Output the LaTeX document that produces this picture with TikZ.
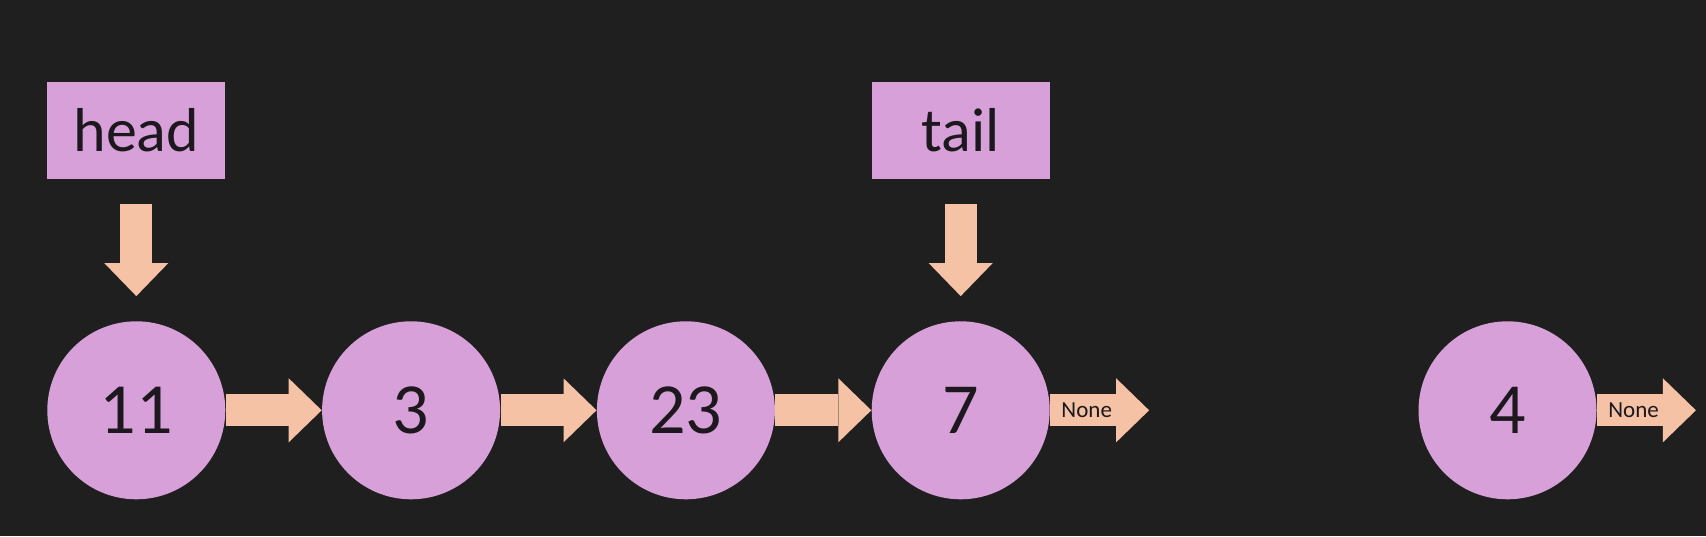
\documentclass[tikz,border=0pt]{standalone}
\usepackage{fontspec}
\setmainfont{Carlito}
\usetikzlibrary{arrows.meta,positioning}
\definecolor{bgcolor}{RGB}{31,31,31}
\definecolor{nodefill}{RGB}{216,160,216}
\definecolor{arrowfill}{RGB}{245,194,166}
\definecolor{textcolor}{RGB}{28,24,30}

\begin{document}
\begin{tikzpicture}[
    pointer/.style={draw=arrowfill,line width=16pt,
      -{Triangle[length=16.5pt,width=32pt,line width=0pt]}},
    list node/.style={circle,fill=nodefill,minimum size=89pt,inner sep=0pt,
      text=textcolor,font=\fontsize{36}{36}\selectfont},
    label box/.style={rectangle,fill=nodefill,minimum width=89pt,minimum height=48.5pt,
      inner sep=0pt,text=textcolor,font=\fontsize{31}{31}\selectfont},
    none label/.style={text=textcolor,inner sep=0pt,font=\fontsize{11.5}{12}\selectfont}]

  \fill[bgcolor] (0,0) rectangle (853pt,268pt);
  \useasboundingbox (0,0) rectangle (853pt,268pt);

  \node[list node] (Node11) at (68.15pt,62.85pt) {11};
  \node[list node] (Node3) [right=48pt of Node11] {3};
  \node[list node] (Node23) [right=48pt of Node3] {23};
  \node[list node] (Node7) [right=48pt of Node23] {7};
  \node[list node] (Node4) [right=184pt of Node7] {4};

  \node[label box] (Head) [above=70.7pt of Node11] {head};
  \node[label box] (Tail) [above=70.7pt of Node7] {tail};

  \coordinate[right=49.5pt of Node7.east] (None7);
  \coordinate[right=49.5pt of Node4.east] (None4);

  % pointers
  \draw[pointer,shorten <=12.5pt,shorten >=12.4pt] (Head) -- (Node11);
  \draw[pointer,shorten <=12.5pt,shorten >=12.4pt] (Tail) -- (Node7);

  % next links
  \draw[pointer] (Node11) -- (Node3);
  \draw[pointer] (Node3) -- (Node23);
  \draw[pointer] (Node23) -- (Node7);
  \draw[pointer] (Node7) -- node[none label,pos=0.37] {None} (None7);
  \draw[pointer] (Node4) -- node[none label,pos=0.37] {None} (None4);

\end{tikzpicture}
\end{document}
